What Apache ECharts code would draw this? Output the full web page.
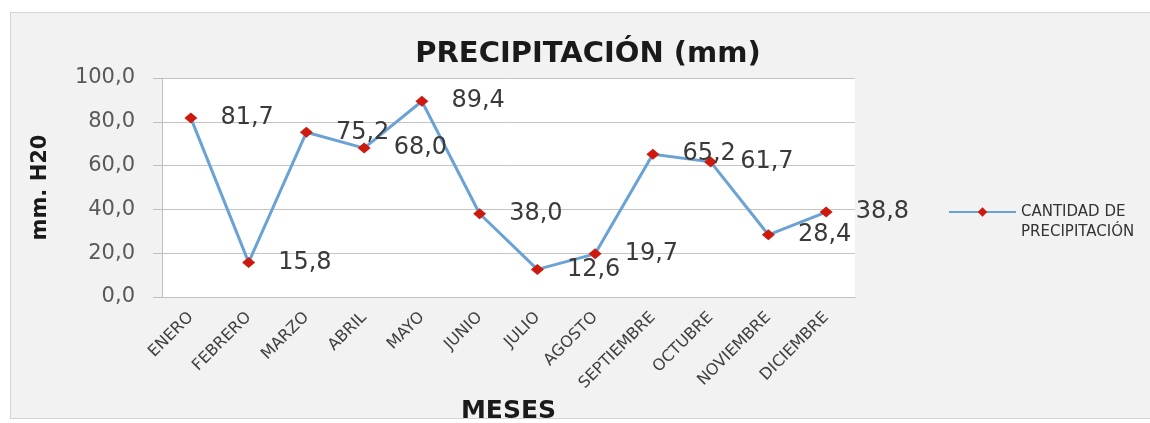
<!DOCTYPE html>
<html>
<head>
<meta charset="utf-8">
<script src="https://cdn.jsdelivr.net/npm/echarts@6/dist/echarts.min.js"></script>
<style>
  html, body { margin: 0; padding: 0; background: #ffffff; }
  #panel { position: absolute; left: 10px; top: 12px; width: 1150px; height: 407px;
           background: #f2f2f2; border: 1px solid #d4d4d4; box-sizing: border-box; }
  #chart { position: absolute; left: 0; top: 0; width: 1150px; height: 423px; }
</style>
</head>
<body>
<div id="panel"></div>
<div id="chart"></div>
<script>
const categories = ['ENERO','FEBRERO','MARZO','ABRIL','MAYO','JUNIO','JULIO','AGOSTO','SEPTIEMBRE','OCTUBRE','NOVIEMBRE','DICIEMBRE'];
const precipitation = [81.7, 15.8, 75.2, 68.0, 89.4, 38.0, 12.6, 19.7, 65.2, 61.7, 28.4, 38.8];
const seriesName = 'CANTIDAD DE\nPRECIPITACIÓN';
const titleText = 'PRECIPITACIÓN (mm)';
const yAxisName = 'mm. H20';
const xAxisName = 'MESES';

const fmt = v => Number(v).toFixed(1).replace('.', ',');

const chart = echarts.init(document.getElementById('chart'), null, { renderer: 'canvas' });
chart.setOption({
  backgroundColor: 'transparent',
  animation: false,
  title: {
    text: titleText,
    left: 583,
    top: 35,
    textAlign: 'center',
    textStyle: { fontFamily: 'DejaVu Sans', fontWeight: 'bold', fontSize: 29, color: '#1a1a1a' }
  },
  legend: {
    left: 948,
    top: 182,
    padding: 0,
    orient: 'vertical',
    itemWidth: 67,
    itemHeight: 12,
    data: [seriesName],
    formatter: n => ' \n' + n,
    textStyle: { fontFamily: 'DejaVu Sans', fontSize: 15, color: '#333333', lineHeight: 20 }
  },
  grid: {
    left: 162, top: 78, width: 693, height: 219,
    outerBoundsMode: 'none',
    containLabel: false,
    show: true, backgroundColor: '#ffffff', borderWidth: 0
  },
  xAxis: {
    type: 'category',
    data: categories,
    boundaryGap: true,
    name: xAxisName,
    nameLocation: 'middle',
    nameGap: 95,
    nameTextStyle: { fontFamily: 'DejaVu Sans', fontWeight: 'bold', fontSize: 25, color: '#1a1a1a' },
    axisLine: { lineStyle: { color: '#bfbfbf', width: 1 } },
    axisTick: { show: false },
    axisLabel: { rotate: 45, margin: 18, interval: 0, fontFamily: 'DejaVu Sans', fontSize: 16, color: '#404040' }
  },
  yAxis: {
    type: 'value',
    min: 0, max: 100, interval: 20,
    name: yAxisName,
    nameLocation: 'middle',
    nameRotate: 90,
    nameGap: 111,
    nameTextStyle: { fontFamily: 'DejaVu Sans', fontWeight: 'bold', fontSize: 21, color: '#1a1a1a' },
    axisLine: { show: true, lineStyle: { color: '#bfbfbf', width: 1 } },
    axisTick: { show: true, length: 9, lineStyle: { color: '#bfbfbf' } },
    splitLine: { lineStyle: { color: '#c4c4c4', width: 1 } },
    axisLabel: { margin: 27, fontFamily: 'DejaVu Sans', fontSize: 21, color: '#595959', formatter: fmt }
  },
  series: [{
    name: seriesName,
    type: 'line',
    data: precipitation,
    symbol: 'diamond',
    symbolSize: [13, 11],
    itemStyle: { color: '#cc1a0e' },
    lineStyle: { color: '#6aa2d6', width: 3 },
    label: {
      show: true,
      position: 'right',
      distance: 23,
      fontFamily: 'DejaVu Sans',
      fontSize: 24,
      color: '#3a3a3a',
      formatter: p => fmt(p.value)
    }
  }]
});
</script>
</body>
</html>
